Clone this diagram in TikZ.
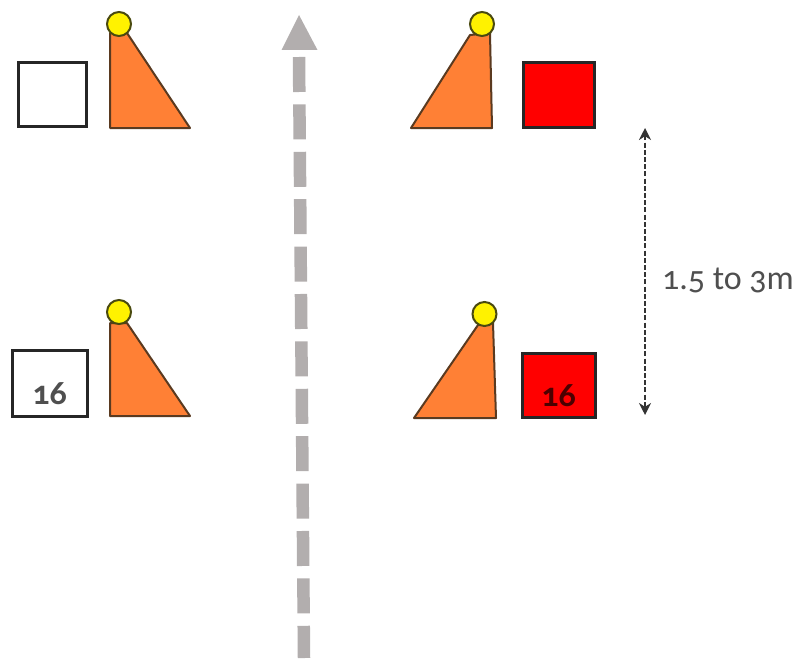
\documentclass[tikz,border=0pt]{standalone}
\usepackage{fontspec}
\setmainfont[Numbers=OldStyle]{Carlito}
\usetikzlibrary{arrows.meta}
\definecolor{conefill}{HTML}{FF8035}
\definecolor{coneline}{HTML}{5A3A20}
\definecolor{ballfill}{HTML}{FFF200}
\definecolor{ballline}{HTML}{4A4A10}
\definecolor{roadgray}{HTML}{B2AEAE}
\definecolor{labelgray}{HTML}{4F4F4F}

\begin{document}
\begin{tikzpicture}[x=1pt, y=-1pt,
    cone/.style = {draw=coneline, fill=conefill, line width=2pt, line join=round},
    ball/.style = {draw=ballline, fill=ballfill, circle, line width=2pt, inner sep=0pt, minimum size=24pt},
    whitebox/.style = {draw=black!85, fill=white, line width=3pt, inner sep=0pt},
    redbox/.style = {draw=black!85, fill=red, line width=3pt, inner sep=0pt},
    boxlabel/.style = {font=\bfseries\fontsize{34}{34}\selectfont, inner sep=0pt, node distance=10pt},
    road/.style = {draw=roadgray, line width=12.5pt, dash pattern=on 35pt off 12.4pt},
    dimline/.style = {draw=black!80, line width=2.4pt, dash pattern=on 5pt off 2.2pt, {Stealth[length=12pt,width=12pt]}-{Stealth[length=12pt,width=12pt]}}]
    \useasboundingbox (0,0) rectangle (797,658);

    \coordinate (roadtop) at (299,57);
    \coordinate (roadbot) at (304,658);
    \coordinate (tiptop) at (299,15);
    \coordinate (tipleft) at (281.5,50);
    \coordinate (tipright) at (317.5,50);
    \draw[road] (roadtop) -- (roadbot);
    \fill[roadgray] (tiptop) -- (tipright) -- (tipleft) -- cycle;

    \node[whitebox, minimum width=68pt, minimum height=64pt](box1) at (52,94.5) {};
    \node[redbox, minimum width=71pt, minimum height=65pt](box2) at (558.5,95) {};
    \node[whitebox, minimum width=75pt, minimum height=66pt](box3) at (49.5,383.5) {};
    \node[redbox, minimum width=73pt, minimum height=64pt](box4) at (558.5,385.5) {};
    \node[boxlabel, text=labelgray](num3) [below of=box3] {16};
    \node[boxlabel, text=black!70!red](num4) [below of=box4] {16};

    \draw[cone] (110,128) -- (110,33) -- (127,33) -- (190,128) -- cycle;
    \draw[cone] (411,128) -- (470,35) -- (490,33) -- (492,128) -- cycle;
    \draw[cone] (110,416) -- (110,323) -- (127,323) -- (190,416) -- cycle;
    \draw[cone] (414,418) -- (478,325) -- (493,323) -- (496,418) -- cycle;
    \node[ball](ball1) at (119,24) {};
    \node[ball](ball2) at (482,24) {};
    \node[ball](ball3) at (119,312) {};
    \node[ball](ball4) at (484.5,314) {};

    \coordinate (dimtop) at (645,128);
    \coordinate (dimbot) at (645,415);
    \draw[dimline] (dimtop) -- (dimbot);
    \node[text=labelgray, font=\fontsize{34}{34}\selectfont, inner sep=0pt](dimtext) at (728,280) {1.5 to 3m};
\end{tikzpicture}
\end{document}
